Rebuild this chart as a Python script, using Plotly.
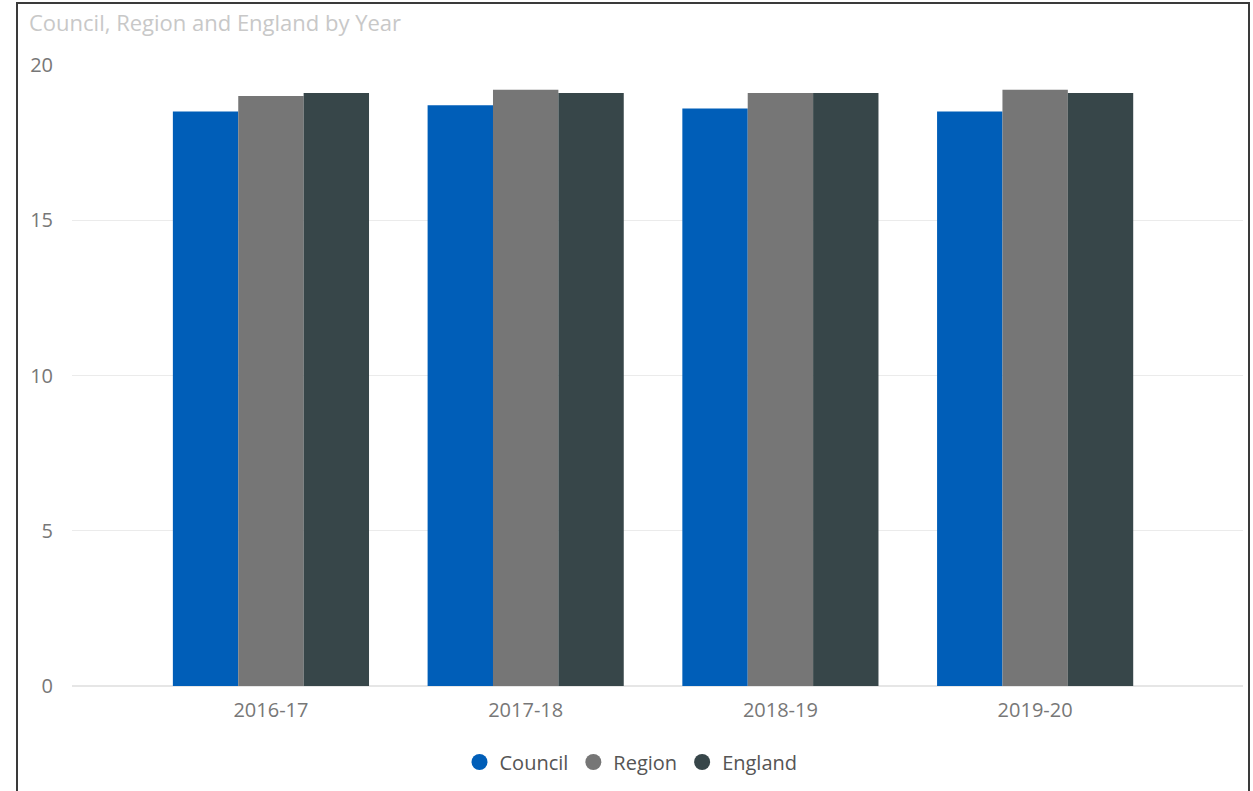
import plotly.graph_objects as go

# Values per year for each series
years = ["2016-17", "2017-18", "2018-19", "2019-20"]
council = [18.5, 18.7, 18.6, 18.5]
region = [19.0, 19.2, 19.1, 19.2]
england = [19.1, 19.1, 19.1, 19.1]

series_names = ["Council", "Region", "England"]
series_values = [council, region, england]
series_colors = ["#005EB8", "#767676", "#374649"]

y_ticks = [0, 5, 10, 15, 20]

FONT = "Open Sans, Noto Sans, DejaVu Sans, sans-serif"

fig = go.Figure()

for name, vals, col in zip(series_names, series_values, series_colors):
    fig.add_trace(go.Bar(
        x=years, y=vals, name=name, marker=dict(color=col, line=dict(width=0)),
        showlegend=False,
    ))

# Circular legend entries
for name, col in zip(series_names, series_colors):
    fig.add_trace(go.Scatter(
        x=[None], y=[None], mode="markers", name=name,
        marker=dict(symbol="circle", size=20, color=col),
        showlegend=True,
    ))

W, H = 1253, 791
ml, mr, mt, mb = 72, 10, 65, 105
pw, ph = W - ml - mr, H - mt - mb

def px_x(px):
    return (px - ml) / pw

def px_y(py):
    return (H - mb - py) / ph

fig.update_layout(
    width=W, height=H,
    margin=dict(l=ml, r=mr, t=mt, b=mb, autoexpand=False),
    paper_bgcolor="white", plot_bgcolor="white",
    barmode="group", bargap=0.23, bargroupgap=0,
    font=dict(family=FONT, size=20, color="#777777"),
    title=dict(
        text="Council, Region and England by Year",
        x=29 / W, xanchor="left", xref="container",
        y=1 - 23 / H, yanchor="middle", yref="container",
        font=dict(family=FONT, size=22, color="#c8c8c8"),
    ),
    legend=dict(
        orientation="h", x=px_x(631), xanchor="center",
        y=px_y(762), yanchor="middle",
        font=dict(family=FONT, size=20, color="#555555"),
        itemwidth=30, tracegroupgap=0,
    ),
    xaxis=dict(
        type="category", range=[-0.781, 3.816],
        showgrid=False, showline=False, zeroline=False, ticks="",
        ticklabelstandoff=10,
        tickfont=dict(family=FONT, size=20, color="#777777"),
        fixedrange=True,
    ),
    yaxis=dict(
        range=[0, 20], tickvals=y_ticks,
        showgrid=True, gridcolor="#ebebeb", gridwidth=1,
        zeroline=True, zerolinecolor="#e6e6e6", zerolinewidth=2,
        showline=False, ticks="", ticklabelstandoff=18,
        tickfont=dict(family=FONT, size=20, color="#777777"),
        fixedrange=True,
    ),
    shapes=[
        dict(type="rect", xref="paper", yref="paper",
             x0=px_x(17), x1=px_x(1249), y0=px_y(H + 20), y1=px_y(3),
             line=dict(color="#3a3a3a", width=2), fillcolor="rgba(0,0,0,0)",
             layer="below"),
    ],
)

fig.write_html("out.html")
